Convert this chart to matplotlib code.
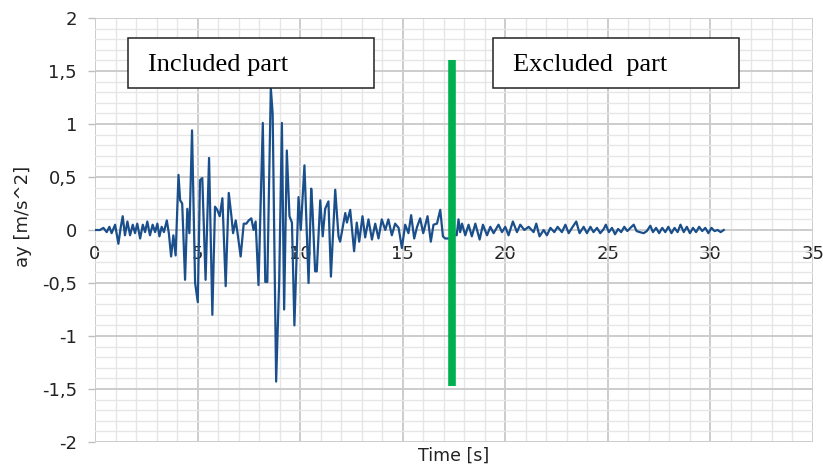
import matplotlib
matplotlib.use("Agg")
import matplotlib.pyplot as plt
from matplotlib.patches import Rectangle
from matplotlib.ticker import MultipleLocator, FixedLocator, FixedFormatter

# ---- data ----
time_s = [0, 0.24, 0.41, 0.57, 0.7, 0.81, 0.98, 1.14, 1.25, 1.35, 1.46, 1.58, 1.71, 1.84, 1.95,
          2.06, 2.2, 2.33, 2.44, 2.55, 2.68, 2.81, 2.93, 3.04, 3.14, 3.25, 3.36, 3.5, 3.6, 3.71,
          3.82, 3.93, 4.07, 4.15, 4.25, 4.39, 4.5, 4.6, 4.73, 4.88, 5.01, 5.12, 5.23, 5.39, 5.56,
          5.72, 5.85, 5.96, 6.08, 6.21, 6.37, 6.52, 6.65, 6.73, 6.86, 6.97, 7.1, 7.25, 7.38, 7.49,
          7.62, 7.73, 7.83, 7.97, 8.18, 8.3, 8.4, 8.57, 8.66, 8.83, 8.98, 9.11, 9.22, 9.35, 9.48,
          9.6, 9.72, 9.92, 10.03, 10.21, 10.41, 10.54, 10.6, 10.73, 10.81, 10.98, 11.1, 11.22,
          11.38, 11.5, 11.71, 11.87, 11.95, 12.2, 12.28, 12.44, 12.63, 12.76, 12.88, 13.04, 13.17,
          13.33, 13.5, 13.66, 13.82, 13.98, 14.15, 14.3, 14.47, 14.63, 14.8, 14.96, 15.12, 15.28,
          15.41, 15.56, 15.7, 15.85, 16.0, 16.21, 16.37, 16.5, 16.67, 16.83, 16.96, 17.07, 17.3,
          17.5, 17.63, 17.72, 17.8, 17.89, 18.05, 18.21, 18.37, 18.54, 18.75, 18.91, 19.11, 19.27,
          19.43, 19.67, 19.84, 20.0, 20.16, 20.37, 20.57, 20.73, 20.93, 21.14, 21.38, 21.51, 21.67,
          21.87, 22.03, 22.2, 22.39, 22.55, 22.76, 22.93, 23.09, 23.25, 23.46, 23.62, 23.82, 23.98,
          24.15, 24.3, 24.47, 24.63, 24.8, 24.9, 25.05, 25.2, 25.35, 25.5, 25.65, 25.8, 25.95,
          26.1, 26.26, 26.4, 26.55, 26.75, 26.9, 27.07, 27.2, 27.35, 27.5, 27.65, 27.8, 27.95,
          28.1, 28.25, 28.4, 28.54, 28.7, 28.85, 29.0, 29.15, 29.3, 29.45, 29.6, 29.75, 29.9,
          30.05, 30.2, 30.35, 30.5, 30.65]
accel_y = [0, 0, 0.02, -0.02, 0.03, -0.03, 0.05, -0.13, 0.02, 0.13, -0.05, 0.08, -0.05, 0.05, -0.03,
           0.06, -0.08, 0.05, -0.02, 0.08, -0.05, 0.05, -0.02, 0.06, -0.06, 0.03, -0.02, 0.09, -0.03, -0.25,
           -0.05, -0.24, 0.52, 0.28, 0.25, -0.47, 0.2, -0.03, 0.94, -0.5, -0.68, 0.47, 0.49, -0.47, 0.68,
           -0.8, 0.22, 0.19, 0.13, 0.3, -0.53, 0.35, 0.13, -0.03, 0.09, -0.06, -0.25, 0.06, 0.06, 0.09,
           0.11, 0.0, 0.08, -0.52, 1.01, -0.49, -0.49, 1.34, 1.1, -1.43, -0.47, 1.01, -0.75, 0.75, 0.13,
           0.07, -0.9, 0.31, 0.0, 0.61, -0.5, 0.39, 0.2, -0.39, -0.39, 0.28, -0.06, 0.2,
           0.27, -0.44, 0.38, -0.06, -0.11, 0.16, 0.07, 0.19, -0.2, 0.07, -0.11, 0.13, -0.07,
           0.1, -0.09, 0.06, -0.08, 0.1, 0.0, 0.1, -0.05, 0.06, 0.02, -0.17, 0.05, -0.03,
           0.14, -0.08, 0.03, 0.11, -0.03, 0.13, -0.11, 0.05, 0.06, 0.19, -0.06, -0.08, -0.08,
           -0.04, -0.05, 0.1, -0.02, 0.06, -0.05, 0.05, -0.06, 0.06, -0.09, 0.05, -0.05, 0.03,
           -0.03, 0.05, -0.02, 0.03, -0.05, 0.08, -0.02, 0.05, 0.0, 0.03, -0.02, 0.06, -0.06,
           0.0, -0.05, 0.02, -0.02, 0.03, -0.02, 0.05, -0.03, 0.02, 0.08, -0.03, 0.03, -0.03,
           0.03, -0.02, 0.02, -0.03, 0.01, 0.05, -0.02, 0.02, -0.04, 0.01, -0.02, 0.03, -0.01,
           0.02, 0.05, -0.01, -0.02, -0.03, -0.01, 0.04, -0.02, 0.02, -0.03, 0.02, -0.02, 0.03,
           -0.03, 0.02, -0.02, 0.05, -0.02, 0.03, -0.03, 0.02, -0.02, 0.03, -0.01, 0.02, -0.03,
           0.02, -0.01, 0.0, -0.02, 0.0]

x_ticks = [0, 5, 10, 15, 20, 25, 30, 35]
x_tick_labels = ["0", "5", "10", "15", "20", "25", "30", "35"]
y_ticks = [-2, -1.5, -1, -0.5, 0, 0.5, 1, 1.5, 2]
y_tick_labels = ["-2", "-1,5", "-1", "-0,5", "0", "0,5", "1", "1,5", "2"]

cut_time = 17.4
cut_range = [1.6, -1.47]
box_labels = ["Included part", "Excluded  part"]
box_x = [1.6, 19.4]

# ---- figure ----
fig = plt.figure(figsize=(8.23, 4.66), dpi=100)
ax = fig.add_axes([95/823, 24/466, 718/823, 424/466])
ax.set_xlim(0, 35)
ax.set_ylim(-2, 2)

for s in ax.spines.values():
    s.set_visible(False)
ax.spines['bottom'].set_position(('data', 0))

ax.xaxis.set_major_locator(FixedLocator(x_ticks))
ax.xaxis.set_major_formatter(FixedFormatter(x_tick_labels))
ax.xaxis.set_minor_locator(MultipleLocator(1))
ax.yaxis.set_major_locator(FixedLocator(y_ticks))
ax.yaxis.set_major_formatter(FixedFormatter(y_tick_labels))
ax.yaxis.set_minor_locator(MultipleLocator(0.1))

font = "DejaVu Sans"
ax.tick_params(axis='x', which='both', length=0, pad=11, labelsize=13, labelcolor='#222222')
ax.tick_params(axis='y', which='major', length=5, width=1, color='#bfbfbf', pad=8,
               labelsize=13, labelcolor='#222222')
ax.tick_params(axis='y', which='minor', length=0)
for lab in ax.get_xticklabels() + ax.get_yticklabels():
    lab.set_fontfamily(font)

ax.grid(which='major', color='#cccccc', linewidth=1.4)
ax.grid(which='minor', color='#e6e6e6', linewidth=1.0)
ax.set_axisbelow(True)

ax.plot(time_s, accel_y, color='#1a4f8b', linewidth=1.6, zorder=2)
ax.plot([cut_time, cut_time], cut_range, color='#00b050', linewidth=5.5,
        solid_capstyle='butt', zorder=3)

for label, bx in zip(box_labels, box_x):
    ax.add_patch(Rectangle((bx, 1.34), 12.0, 0.47, facecolor='white', edgecolor='#222222',
                           linewidth=1.1, zorder=4))
    ax.text(bx + 1.0, 1.555, label, fontsize=19, family='Liberation Serif', ha='left',
            va='center', zorder=5, color='black')

ax.set_xlabel("Time [s]", fontsize=12.5, family=font, color='#222222')
ax.xaxis.set_label_coords(0.5, -0.012)
ax.set_ylabel("ay [m/s^2]", fontsize=13, family=font, color='#222222')
ax.yaxis.set_label_coords(-0.088, 0.533)

fig.savefig("out.png", dpi=100)
